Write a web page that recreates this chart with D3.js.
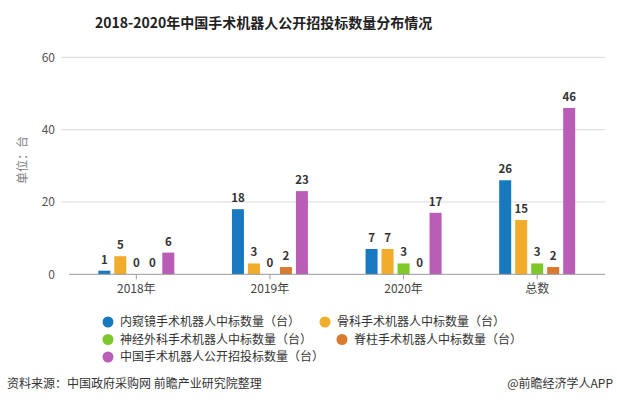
<!DOCTYPE html>
<html><head><meta charset="utf-8">
<script src="https://cdn.jsdelivr.net/npm/d3@7"></script>
<style>body{margin:0;background:#fff}svg{display:block;font-family:"Microsoft YaHei","Noto Sans CJK SC",sans-serif}</style>
</head><body><svg id="c" width="617" height="412"></svg>
<script>
const categories = ["2018年","2019年","2020年","总数"];
const seriesNames = ["内窥镜手术机器人中标数量（台）","骨科手术机器人中标数量（台）","神经外科手术机器人中标数量（台）","脊柱手术机器人中标数量（台）","中国手术机器人公开招投标数量（台）"];
const endoscope = [1,18,7,26];
const ortho = [5,3,7,15];
const neuro = [0,0,3,3];
const spine = [0,2,0,2];
const total = [6,23,17,46];
const colors = ["#1878c0","#f0ac2a","#7ec82a","#d87a30","#b95db7"];
const yTicks = [0,20,40,60];
const series = [endoscope, ortho, neuro, spine, total];

const svg = d3.select("#c");
const y = d3.scaleLinear().domain([0,60]).range([274.3,57.3]);
const x = d3.scaleBand().domain(categories).range([69.5,604]);
const xs = d3.scaleBand().domain(d3.range(5)).range([0,80]).paddingInner(0.25).paddingOuter(0.125);

svg.append("text").attr("x",95).attr("y",28).attr("font-size",14).attr("font-weight","bold").attr("fill","#222").text("2018-2020年中国手术机器人公开招投标数量分布情况");

// grid
const g = svg.append("g");
g.selectAll("line.grid").data(yTicks.slice(1)).join("line")
 .attr("x1",61).attr("x2",605).attr("y1",d=>y(d)).attr("y2",d=>y(d)).attr("stroke","#d9d9d9");
g.selectAll("text.yt").data(yTicks).join("text").attr("x",55).attr("y",d=>y(d)+4.5).attr("text-anchor","end")
 .attr("font-size",12).attr("fill","#555").text(d=>d);
svg.append("text").attr("transform","translate(27,160) rotate(-90)").attr("text-anchor","middle").attr("font-size",12).attr("fill","#808080").text("单位：台");

// bars
categories.forEach((c,ci)=>{
  const gx = x(c) + x.bandwidth()/2 - 40;
  series.forEach((s,si)=>{
    const v = s[ci];
    const bx = gx + xs(si);
    if (v>0) svg.append("rect").attr("x",bx).attr("y",y(v)).attr("width",xs.bandwidth()).attr("height",y(0)-y(v)).attr("fill",colors[si]);
    svg.append("text").attr("x",bx+xs.bandwidth()/2).attr("y",y(v)-7).attr("text-anchor","middle").attr("font-size",11.5).attr("font-weight","bold").attr("fill","#333").text(v);
  });
});

// x axis
svg.append("line").attr("x1",69).attr("x2",605).attr("y1",y(0)).attr("y2",y(0)).attr("stroke","#999");
categories.forEach(c=>{
  const cx = x(c)+x.bandwidth()/2;
  svg.append("line").attr("x1",cx).attr("x2",cx).attr("y1",y(0)).attr("y2",y(0)+5).attr("stroke","#999");
  svg.append("text").attr("x",cx).attr("y",293).attr("text-anchor","middle").attr("font-size",12).attr("fill","#444").text(c);
});

// legend
const legPos = [[108,322],[325,322],[108,339.5],[342,339.5],[108,357]];
seriesNames.forEach((n,i)=>{
  const [lx,ly] = legPos[i];
  svg.append("circle").attr("cx",lx).attr("cy",ly).attr("r",5.5).attr("fill",colors[i]);
  svg.append("text").attr("x",lx+12).attr("y",ly+4.3).attr("font-size",12).attr("fill","#333").text(n);
});

// footer
svg.append("text").attr("x",7).attr("y",388).attr("font-size",12).attr("fill","#333").text("资料来源：中国政府采购网 前瞻产业研究院整理");
svg.append("text").attr("x",613).attr("y",388).attr("text-anchor","end").attr("font-size",12).attr("fill","#333").text("@前瞻经济学人APP");
</script></body></html>
